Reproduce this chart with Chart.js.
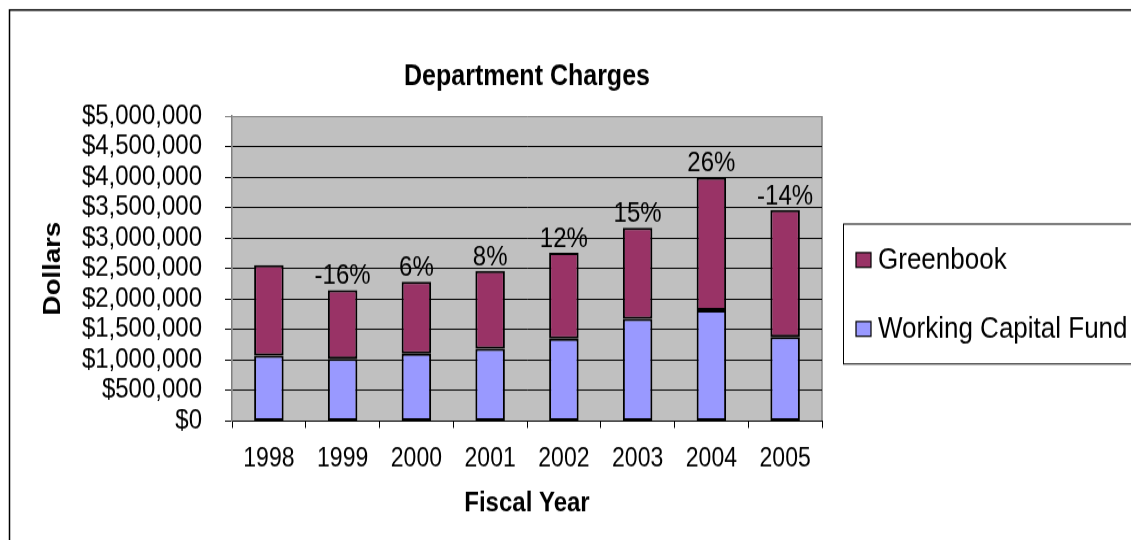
<!DOCTYPE html>
<html><head><meta charset="utf-8">
<script src="https://cdn.jsdelivr.net/npm/chart.js@4.4.1/dist/chart.umd.min.js"></script>
<style>
html,body{margin:0;padding:0;background:#fff;overflow:hidden;width:1131px;height:540px;}
#wrap{position:absolute;left:0;top:0;width:1131px;height:470px;transform:scaleY(1.148936);transform-origin:0 0;}
canvas{display:block;}
</style></head><body>
<div id="wrap"><canvas id="c" width="1131" height="470"></canvas></div>
<script>
const years = ['1998', '1999', '2000', '2001', '2002', '2003', '2004', '2005'];
const workingCapitalFund = [1070000, 1021000, 1103000, 1185000, 1349000, 1677000, 1815000, 1377000];
const greenbook = [1487000, 1127000, 1181000, 1275000, 1411000, 1493000, 2175000, 2083000];
const changeLabels = ['', '-16%', '6%', '8%', '12%', '15%', '26%', '-14%'];
const yTickLabels = ['$0', '$500,000', '$1,000,000', '$1,500,000', '$2,000,000', '$2,500,000',
  '$3,000,000', '$3,500,000', '$4,000,000', '$4,500,000', '$5,000,000'];
const chartTitle = 'Department Charges';

const FONT = "'Liberation Sans', Arial, Helvetica, sans-serif";

const bgPlugin = {
  id: 'bg',
  beforeDraw(chart) {
    const {ctx, chartArea: a} = chart;
    ctx.save();
    ctx.fillStyle = '#ffffff';
    ctx.fillRect(0, 0, chart.width, chart.height);
    ctx.fillStyle = '#C0C0C0';
    ctx.fillRect(a.left, a.top, a.right - a.left, a.bottom - a.top);
    ctx.strokeStyle = '#808080';
    ctx.lineWidth = 1.5;
    ctx.beginPath();
    ctx.moveTo(a.right, a.top);
    ctx.lineTo(a.right, a.bottom);
    ctx.stroke();
    // outer chart border
    ctx.strokeStyle = '#000000';
    ctx.lineWidth = 1.5;
    ctx.strokeRect(9.5, 8.7, 1200, 600);
    // chart title centred over the plot area
    ctx.fillStyle = '#000';
    ctx.font = 'bold 25px ' + FONT;
    ctx.textAlign = 'center';
    ctx.textBaseline = 'middle';
    ctx.fillText(chartTitle, (a.left + a.right) / 2, 67);
    ctx.restore();
  }
};

const labelPlugin = {
  id: 'pct',
  afterDatasetsDraw(chart) {
    const {ctx} = chart;
    const meta = chart.getDatasetMeta(1);
    ctx.save();
    ctx.font = '24px ' + FONT;
    ctx.fillStyle = '#000';
    ctx.textAlign = 'center';
    ctx.textBaseline = 'alphabetic';
    meta.data.forEach((el, i) => {
      const t = changeLabels[i];
      if (t) ctx.fillText(t, el.x, el.y - 5.2);
    });
    ctx.restore();
  }
};

const legendPlugin = {
  id: 'customLegend',
  afterDraw(chart) {
    const {ctx} = chart;
    ctx.save();
    ctx.strokeStyle = '#000';
    ctx.lineWidth = 1;
    ctx.strokeRect(843.5, 195, 400, 121.8);
    const items = [chart.data.datasets[1], chart.data.datasets[0]];
    const ys = [226.3, 286.3];
    ctx.font = '26px ' + FONT;
    ctx.textBaseline = 'middle';
    ctx.textAlign = 'left';
    items.forEach((ds, i) => {
      const y = ys[i];
      ctx.fillStyle = ds.backgroundColor;
      ctx.fillRect(856, y - 6.4, 15, 12.8);
      ctx.lineWidth = 1.2;
      ctx.strokeStyle = '#000';
      ctx.strokeRect(856, y - 6.4, 15, 12.8);
      ctx.fillStyle = '#000';
      ctx.fillText(ds.label, 878, y + 1);
    });
    ctx.restore();
  }
};

new Chart(document.getElementById('c'), {
  type: 'bar',
  data: {
    labels: years,
    datasets: [
      { label: 'Working Capital Fund', data: workingCapitalFund, backgroundColor: '#9999FF',
        borderColor: '#000', borderWidth: 2, borderSkipped: false,
        barPercentage: 0.4, categoryPercentage: 1 },
      { label: 'Greenbook', data: greenbook, backgroundColor: '#993366',
        borderColor: '#000', borderWidth: 2, borderSkipped: false,
        barPercentage: 0.4, categoryPercentage: 1 }
    ]
  },
  options: {
    responsive: false,
    animation: false,
    devicePixelRatio: 1,
    layout: { padding: { left: 10, right: 309, top: 101, bottom: 0 } },
    plugins: {
      legend: { display: false },
      tooltip: { enabled: false },
      title: { display: false }
    },
    scales: {
      x: {
        stacked: true,
        offset: true,
        grid: { display: true, drawOnChartArea: false, drawTicks: true, tickLength: 6.1, color: '#000', lineWidth: 1 },
        border: { display: true, color: '#000', width: 1 },
        ticks: { color: '#000', font: { family: FONT, size: 23 }, padding: 13, autoSkip: false, maxRotation: 0 },
        title: { display: true, text: 'Fiscal Year', color: '#000',
          font: { family: FONT, size: 24, weight: 'bold', lineHeight: 1.2 }, padding: { top: 0, bottom: 17.5 } },
        afterFit(scale) { scale.height = 103.6; }
      },
      y: {
        stacked: true,
        min: 0, max: 5000000,
        grid: { color: (c) => (c.tick && c.tick.value === 5000000 ? '#808080' : '#000'), lineWidth: 1, tickLength: 7 },
        border: { display: true, color: '#808080', width: 1.5 },
        ticks: { stepSize: 500000, autoSkip: false, color: '#000', padding: 23,
          font: { family: FONT, size: 24, lineHeight: 1 },
          callback: (v, i) => yTickLabels[i] },
        title: { display: true, text: 'Dollars', color: '#000',
          font: { family: FONT, size: 24, weight: 'bold', lineHeight: 1.2 }, padding: { top: 28.6, bottom: 0 } },
        afterFit(scale) { scale.width = 222; }
      }
    }
  },
  plugins: [bgPlugin, labelPlugin, legendPlugin]
});
</script>
</body></html>
